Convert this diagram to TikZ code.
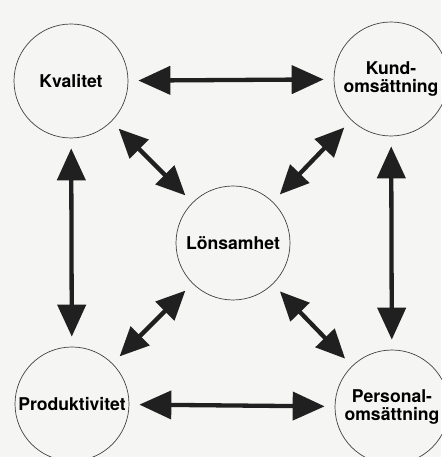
\documentclass[tikz,border=0pt]{standalone}
\usepackage{fontspec}
\setmainfont{TeX Gyre Heros}
\usetikzlibrary{arrows.meta,positioning}
\definecolor{paper}{RGB}{245,245,243}
\definecolor{ink}{RGB}{32,32,32}

\begin{document}
\begin{tikzpicture}[
    x=1pt, y=1pt,
    factor/.style={circle, draw=ink!85, line width=0.7pt, minimum size=114pt, inner sep=0pt,
        align=center, font=\bfseries\fontsize{17.6}{18.5}\selectfont},
    link/.style={{Triangle[length=32pt,width=28pt]}-{Triangle[length=32pt,width=28pt]},
        line width=4.3pt, ink, shorten <=10pt, shorten >=10pt},
    slant link/.style={link, {Triangle[length=29pt,width=26pt]}-{Triangle[length=29pt,width=26pt]}}
]
    \useasboundingbox (0,0) rectangle (441,457);
    \fill[paper] (0,0) rectangle (441,457);

    % Factors
    \node[factor] (kval) at (71,376) {Kvalitet};
    \node[factor] (kund) at (391,378) {Kund-\\oms\"attning};
    \node[factor] (lons) at (233,214) {L\"onsamhet};
    \node[factor] (prod) at (72,53) {Produktivitet};
    \node[factor] (pers) at (392,50) {Personal-\\oms\"attning};

    % Outer links
    \foreach \a/\b in {kval/kund, prod/pers, kval/prod, kund/pers}
        \draw[link] (\a) -- (\b);

    % Links to the centre
    \foreach \a in {kval, kund, prod, pers}
        \draw[slant link] (\a) -- (lons);
\end{tikzpicture}
\end{document}
